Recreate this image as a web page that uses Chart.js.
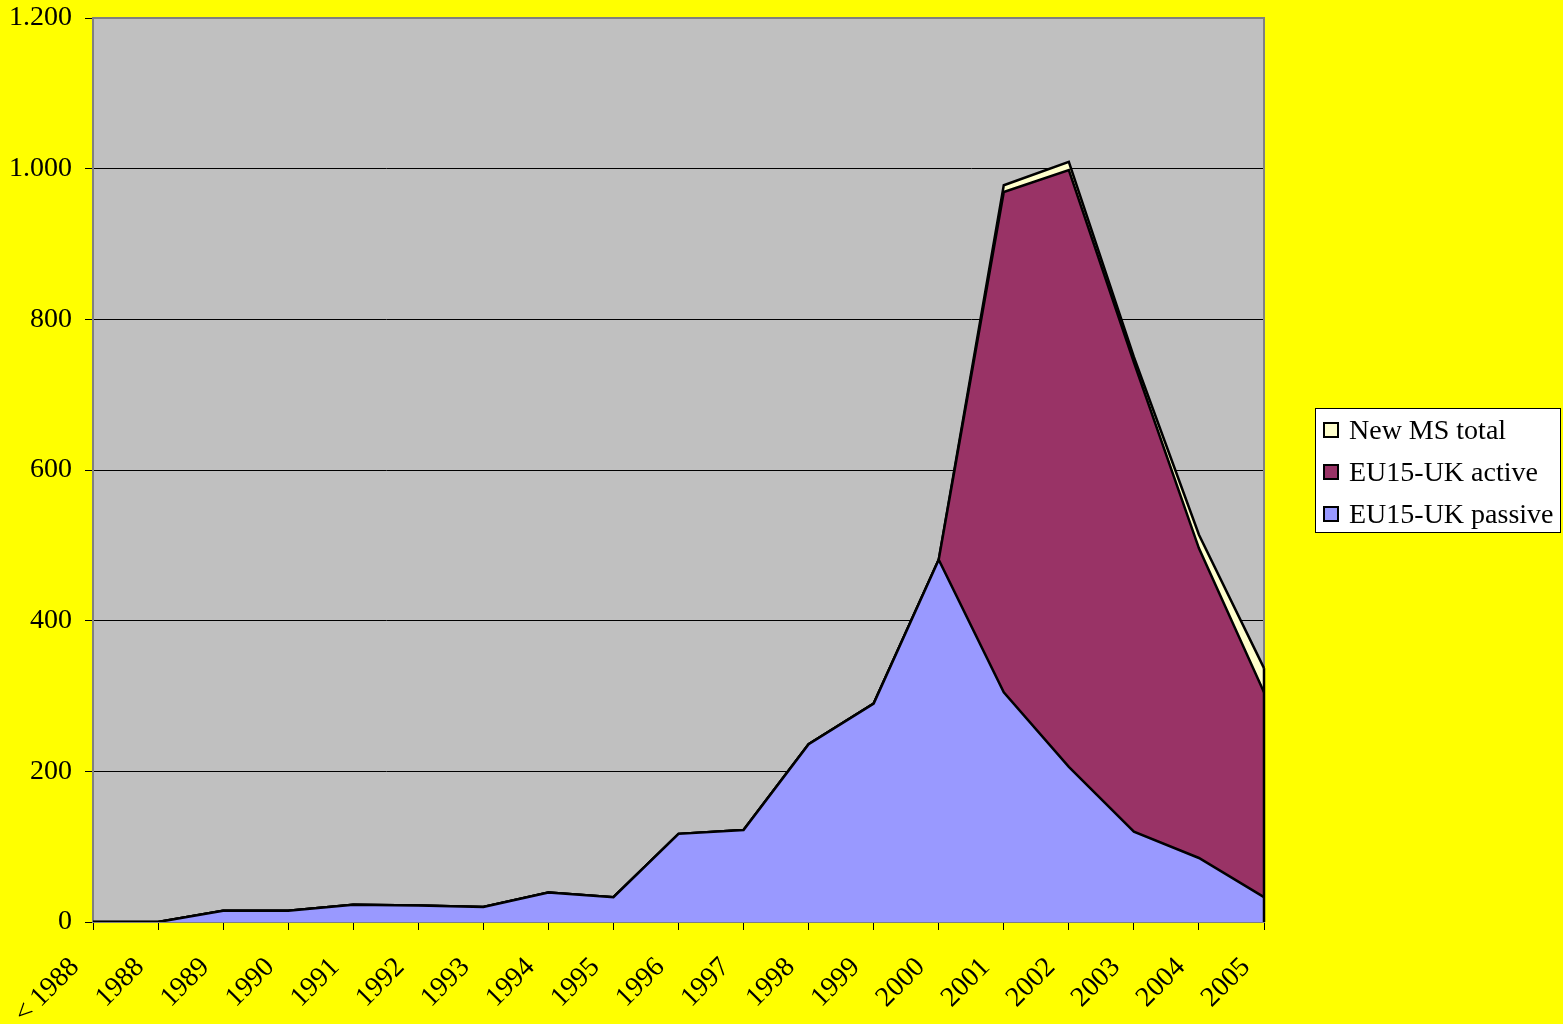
<!DOCTYPE html>
<html>
<head>
<meta charset="utf-8">
<script src="https://cdn.jsdelivr.net/npm/chart.js@4/dist/chart.umd.min.js"></script>
<style>
  html, body { margin: 0; padding: 0; background: #ffff00; }
  canvas { display: block; }
</style>
</head>
<body>
<canvas id="chart" width="1563" height="1024"></canvas>
<script>
// Dados do gráfico
const categories = ['< 1988', '1988', '1989', '1990', '1991', '1992', '1993', '1994', '1995',
    '1996', '1997', '1998', '1999', '2000', '2001', '2002', '2003', '2004', '2005'];
const passiveValues = [0, 0, 15, 15, 23, 22, 20, 39, 33, 117, 122, 236, 290, 481, 305, 206, 120, 85, 33];
const activeValues  = [0, 0, 0, 0, 0, 0, 0, 0, 0, 0, 0, 0, 0, 0, 664, 792, 623, 411, 272];
const newMsValues   = [0, 0, 0, 0, 0, 0, 0, 0, 0, 0, 0, 0, 0, 0, 9, 11, 7, 18, 32];
const yTickValues = [0, 200, 400, 600, 800, 1000, 1200];

const serif = "'Liberation Serif', 'Times New Roman', serif";
const fontSize = 28;

function formatThousands(v) {
    return String(v).replace(/\B(?=(\d{3})+(?!\d))/g, '.');
}

// Fundo amarelo, área cinza e borda do gráfico
const plotBackground = {
    id: 'plotBackground',
    beforeDraw(chart) {
        const { ctx, chartArea: a } = chart;
        ctx.save();
        ctx.fillStyle = '#ffff00';
        ctx.fillRect(0, 0, chart.width, chart.height);
        ctx.fillStyle = '#c0c0c0';
        ctx.fillRect(a.left, a.top, a.right - a.left, a.bottom - a.top);
        ctx.restore();
    },
    beforeDatasetsDraw(chart) {
        const { ctx, chartArea: a } = chart;
        ctx.save();
        ctx.strokeStyle = '#808080';
        ctx.lineWidth = 2;
        ctx.strokeRect(a.left, a.top, a.right - a.left, a.bottom - a.top);
        ctx.restore();
    },
    afterDatasetsDraw(chart) {
        // borda vertical no fim das áreas
        const { ctx } = chart;
        const last = categories.length - 1;
        const total = passiveValues[last] + activeValues[last] + newMsValues[last];
        const x = chart.scales.x.getPixelForValue(last);
        ctx.save();
        ctx.strokeStyle = '#000';
        ctx.lineWidth = 2.5;
        ctx.beginPath();
        ctx.moveTo(x, chart.scales.y.getPixelForValue(0));
        ctx.lineTo(x, chart.scales.y.getPixelForValue(total));
        ctx.stroke();
        ctx.restore();
    }
};

// Legenda desenhada à direita, com caixa branca
const boxLegend = {
    id: 'boxLegend',
    afterDraw(chart) {
        const { ctx, chartArea: a } = chart;
        const items = chart.data.datasets.slice().reverse();
        const lineH = 42;
        const boxW = 245;
        const boxH = items.length * lineH - 2;
        const left = a.right + 51;
        const top = (a.top + a.bottom) / 2 - boxH / 2;
        ctx.save();
        ctx.fillStyle = '#ffffff';
        ctx.fillRect(left, top, boxW, boxH);
        ctx.strokeStyle = '#000';
        ctx.lineWidth = 1;
        ctx.strokeRect(left + 0.5, top + 0.5, boxW, boxH);
        ctx.font = fontSize + 'px ' + serif;
        ctx.textBaseline = 'middle';
        ctx.textAlign = 'left';
        items.forEach((ds, i) => {
            const cy = top + lineH / 2 + i * lineH + 1;
            ctx.fillStyle = ds.backgroundColor;
            ctx.fillRect(left + 9, cy - 7, 14, 14);
            ctx.strokeStyle = '#000';
            ctx.lineWidth = 2;
            ctx.strokeRect(left + 9, cy - 7, 14, 14);
            ctx.fillStyle = '#000';
            ctx.fillText(ds.label, left + 34, cy + 2);
        });
        ctx.restore();
    }
};

const ctx = document.getElementById('chart').getContext('2d');
new Chart(ctx, {
    type: 'line',
    data: {
        labels: categories,
        datasets: [{
            label: 'EU15-UK passive',
            data: passiveValues,
            backgroundColor: '#9999ff',
            borderColor: '#000',
            borderWidth: 2.5,
            fill: 'origin',
            pointRadius: 0,
            tension: 0
        }, {
            label: 'EU15-UK active',
            data: activeValues,
            backgroundColor: '#993366',
            borderColor: '#000',
            borderWidth: 2.5,
            fill: '-1',
            pointRadius: 0,
            tension: 0
        }, {
            label: 'New MS total',
            data: newMsValues,
            backgroundColor: '#ffffcc',
            borderColor: '#000',
            borderWidth: 2.5,
            fill: '-1',
            pointRadius: 0,
            tension: 0
        }]
    },
    options: {
        responsive: false,
        animation: false,
        layout: {
            padding: { left: 0, top: 18, right: 299, bottom: 0 }
        },
        plugins: {
            legend: { display: false },
            tooltip: { enabled: false }
        },
        scales: {
            x: {
                offset: false,
                grid: {
                    display: true,
                    drawOnChartArea: false,
                    drawTicks: true,
                    tickLength: 8,
                    color: '#000',
                    offset: false
                },
                border: { color: '#000', width: 1.5 },
                ticks: {
                    autoSkip: false,
                    maxRotation: 45,
                    minRotation: 45,
                    padding: 21,
                    labelOffset: -18,
                    color: '#000',
                    font: { family: serif, size: fontSize }
                },
                afterFit(scale) {
                    scale.height = 102;
                    scale.paddingLeft = 0;
                    scale.paddingRight = 0;
                }
            },
            y: {
                stacked: true,
                min: 0,
                max: 1200,
                afterBuildTicks(scale) {
                    scale.ticks = yTickValues.map(v => ({ value: v }));
                },
                grid: {
                    color: '#000',
                    lineWidth: 1,
                    tickLength: 8,
                    drawTicks: true
                },
                border: { color: '#808080', width: 2 },
                ticks: {
                    padding: 13,
                    color: '#000',
                    font: { family: serif, size: fontSize },
                    callback: v => formatThousands(v)
                },
                afterFit(scale) {
                    scale.width = 93;
                    scale.paddingTop = 0;
                    scale.paddingBottom = 0;
                }
            }
        }
    },
    plugins: [plotBackground, boxLegend]
});
</script>
</body>
</html>
